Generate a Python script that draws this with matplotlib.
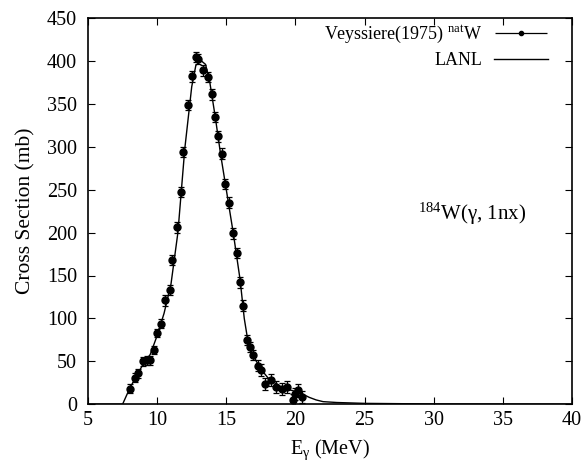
import numpy as np
import matplotlib
matplotlib.use("Agg")
import matplotlib.pyplot as plt
from matplotlib.legend_handler import HandlerErrorbar

plt.rcParams['font.family'] = ['Liberation Serif', 'DejaVu Serif']
plt.rcParams['mathtext.fontset'] = 'custom'
plt.rcParams['mathtext.rm'] = 'Liberation Serif'
plt.rcParams['mathtext.it'] = 'Liberation Serif:italic'

# Veyssiere (1975) natW data
exp_e = [8.0, 8.4, 8.6, 9.0, 9.3, 9.5, 9.8, 10.0, 10.3, 10.6, 10.9, 11.1, 11.4,
         11.7, 11.9, 12.2, 12.5, 12.8, 12.95, 13.3, 13.7, 14.0, 14.2, 14.4, 14.7,
         14.9, 15.2, 15.5, 15.8, 16.0, 16.2, 16.5, 16.7, 16.9, 17.3, 17.5, 17.8,
         18.2, 18.6, 19.0, 19.4, 19.8, 20.0, 20.2, 20.5]
exp_xs = [18, 31, 36, 50, 51, 51, 63, 83, 94, 121, 133, 168, 206,
          247, 294, 349, 382, 405, 402, 389, 381, 361, 335, 312, 292,
          257, 235, 199, 176, 142, 115, 75, 67, 57, 45, 40, 24,
          28, 20, 18, 20, 5, 12, 16, 8]
exp_err = [5, 5, 5, 5, 5, 5, 5, 5, 5, 6, 6, 6, 6,
           6, 6, 6, 6, 6, 6, 6, 6, 6, 6, 6, 6,
           6, 6, 6, 6, 6, 6, 6, 6, 6, 6, 7, 7,
           7, 7, 7, 7, 7, 7, 7, 7]

# LANL evaluation
lanl_e = [5, 7.5, 8.0, 8.5, 9.0, 9.5, 10.0, 10.5, 11.0, 11.5, 12.0, 12.5, 12.8,
          13.2, 13.5, 13.8, 14.2, 14.6, 15.0, 15.5, 16.0, 16.3, 16.6, 17.0, 17.5,
          18.0, 18.5, 19.0, 19.5, 20.0, 20.5, 21.0, 21.5, 22.0, 23.0, 25.0, 30.0, 40.0]
lanl_xs = [0, 0, 18, 33, 47, 58, 80, 106, 140, 200, 298, 370, 395,
           400, 396, 376, 335, 290, 250, 200, 145, 100, 70, 55, 41,
           31, 25, 20, 17, 15, 12, 8, 5, 3, 2, 1, 0.3, 0]

fig = plt.figure(figsize=(5.83, 4.75), dpi=100)
ax = fig.add_axes([0.151, 0.149, 0.830, 0.813])

ax.plot(lanl_e, lanl_xs, color='black', lw=1.0, zorder=2)
ax.errorbar(exp_e, exp_xs, yerr=exp_err, fmt='o', color='black', ms=5,
            elinewidth=0.9, capsize=2.5, capthick=0.9, zorder=3)

# legend proxies (gnuplot style: text first, horizontal error bar sample)
h1 = ax.errorbar([], [], xerr=[], fmt='o', color='black', ms=3,
                 elinewidth=0.9, capsize=3, capthick=0.9)
h2, = ax.plot([], [], color='black', lw=1.0)
ax.legend([h1, h2], ['Veyssiere(1975) $^{\\rm nat}$W', 'LANL'],
          loc='upper right', bbox_to_anchor=(0.950, 0.985),
          frameon=False, markerfirst=False, fontsize=13,
          handlelength=2.95, borderaxespad=0, borderpad=0, labelspacing=0.4,
          handletextpad=0.65,
          handler_map={type(h1): HandlerErrorbar(xerr_size=1.45)})

ax.text(28.9, 222, '$^{184}$W(\u03b3, 1nx)', fontsize=15, va='center', ha='left')

ax.set_xlim(5, 40)
ax.set_ylim(0, 450)
ax.set_xticks(np.arange(5, 41, 5))
ax.set_yticks(np.arange(0, 451, 50))
ax.tick_params(direction='in', top=True, right=True, labelsize=14.5, length=5)
ax.tick_params(axis='y', pad=8)
ax.tick_params(axis='x', pad=5)
ax.set_xlabel('E$_\\mathrm{\u03b3}$ (MeV)', fontsize=14.5, labelpad=5)
ax.set_ylabel('Cross Section (mb)', fontsize=15.5, labelpad=8)
for s in ax.spines.values():
    s.set_linewidth(1.2)

plt.savefig('out.png', dpi=100)
